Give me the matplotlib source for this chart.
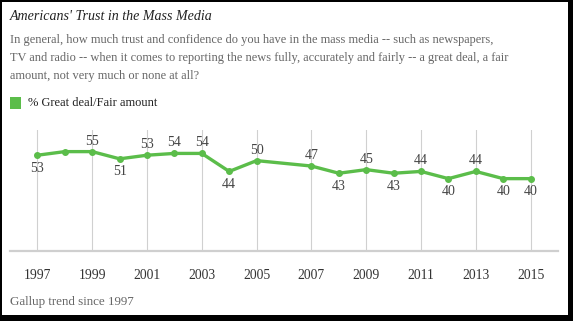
import numpy as np
import matplotlib
matplotlib.use("Agg")
from matplotlib import pyplot as plt
from matplotlib.patches import Rectangle

years = [1997, 1998, 1999, 2000, 2001, 2002, 2003, 2004, 2005, 2007,
         2008, 2009, 2010, 2011, 2012, 2013, 2014, 2015]
trust = [53, 55, 55, 51, 53, 54, 54, 44, 50, 47,
         43, 45, 43, 44, 40, 44, 40, 40]
# which points get a label, and where (1 = above, -1 = below)
label_pos = {1997: -1, 1999: 1, 2000: -1, 2001: 1, 2002: 1, 2003: 1,
             2004: -1, 2005: 1, 2007: 1, 2008: -1, 2009: 1, 2010: -1,
             2011: 1, 2012: -1, 2013: 1, 2014: -1, 2015: -1}
tick_years = [1997, 1999, 2001, 2003, 2005, 2007, 2009, 2011, 2013, 2015]

GREEN = "#5bbd4a"
SERIF = ["Liberation Serif", "DejaVu Serif"]
plt.rcParams["font.family"] = SERIF

W, H = 573, 321
fig = plt.figure(figsize=(W / 100, H / 100), dpi=100)

# black frame, heavier on right/bottom
fig.patches.append(Rectangle((0, 0), 1, 1, transform=fig.transFigure,
                             facecolor="black", edgecolor="none", zorder=-10))
fig.patches.append(Rectangle((2 / W, 6 / H), 566 / W, 313 / H,
                             transform=fig.transFigure, facecolor="white",
                             edgecolor="none", zorder=-9))


def fy(px):
    """pixel row from top -> figure fraction"""
    return 1 - px / H


fig.text(10 / W, fy(16), "Americans' Trust in the Mass Media", fontsize=10.1,
         style="italic", color="#222222", va="center")
sub = ["In general, how much trust and confidence do you have in the mass media -- such as newspapers,",
       "TV and radio -- when it comes to reporting the news fully, accurately and fairly -- a great deal, a fair",
       "amount, not very much or none at all?"]
for i, line in enumerate(sub):
    fig.text(10 / W, fy(40 + 18 * i), line, fontsize=8.95, color="#666666",
             va="center")

fig.patches.append(Rectangle((10 / W, fy(109)), 11 / W, 12 / H,
                             transform=fig.transFigure, facecolor=GREEN,
                             edgecolor="none"))
fig.text(28 / W, fy(103), "% Great deal/Fair amount", fontsize=9.0,
         color="#222222", va="center")
fig.text(10 / W, fy(302), "Gallup trend since 1997", fontsize=9.4,
         color="#666666", va="center")

ax = fig.add_axes([10 / W, 1 - 250.7 / H, 548 / W, 120.7 / H])
ax.set_xlim(1996, 2016)
ax.set_ylim(0, 67)
for s in ["top", "right", "left"]:
    ax.spines[s].set_visible(False)
ax.spines["bottom"].set_color("#cfcfcf")
ax.spines["bottom"].set_linewidth(1.6)
ax.set_yticks([])
ax.set_xticks(tick_years)
ax.set_xticklabels([str(y) for y in tick_years], fontsize=9.8, color="#333333")
ax.tick_params(axis="x", length=0, pad=13)
ax.patch.set_alpha(0)
for y in tick_years:
    ax.axvline(y, color="#d0d0d0", linewidth=0.8, zorder=1)

ax.plot(years, trust, color=GREEN, linewidth=2.4, marker="o", markersize=4,
        zorder=3, clip_on=False)

for x, v in zip(years, trust):
    if x in label_pos:
        d = label_pos[x]
        off = 10.5 if d > 0 else -13
        ax.annotate(str(v), (x, v), xytext=(0, off * 0.72),
                    textcoords="offset points", ha="center", va="center",
                    fontsize=10, color="#444444")

fig.savefig("out.png", dpi=100)
